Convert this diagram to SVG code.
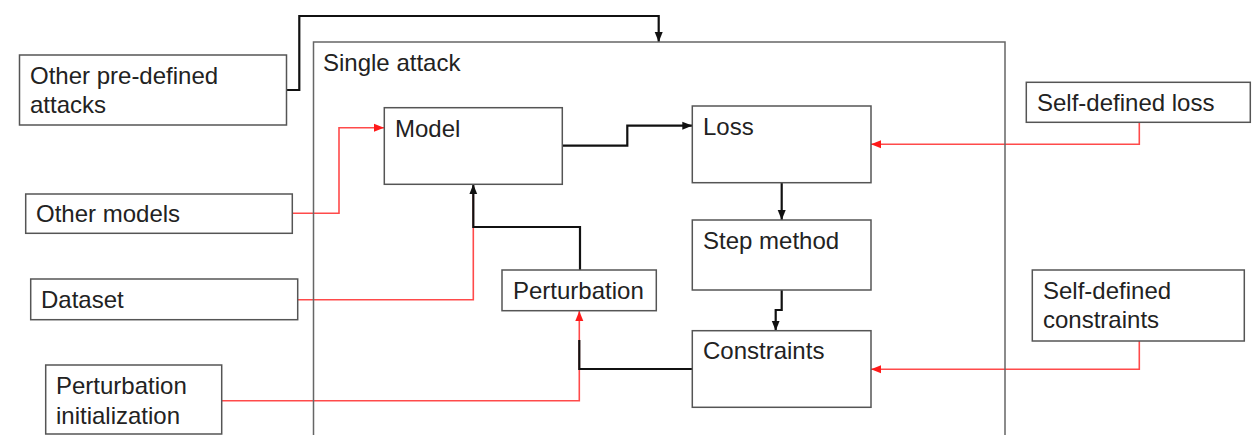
<svg xmlns="http://www.w3.org/2000/svg" width="1257" height="435" viewBox="0 0 1257 435">
<style>
.box{fill:#fff;stroke:#555;stroke-width:1.5}
.cont{fill:none;stroke:#666;stroke-width:1.5}
.t{font-family:"Liberation Sans",Arial,sans-serif;font-size:24px;fill:#222}
.blk{fill:none;stroke:#111;stroke-width:2.2}
.red{fill:none;stroke:#ff4a4a;stroke-width:1.6}
</style>
<defs>
<marker id="ab" markerUnits="userSpaceOnUse" markerWidth="10" markerHeight="10" viewBox="0 0 10 10" refX="10" refY="5" orient="auto"><path d="M0,1 L10,5 L0,9 z" fill="#111"/></marker>
<marker id="ar" markerUnits="userSpaceOnUse" markerWidth="10" markerHeight="10" viewBox="0 0 10 10" refX="10" refY="5" orient="auto"><path d="M0,1 L10,5 L0,9 z" fill="#ff1a1a"/></marker>
</defs>
<rect width="1257" height="435" fill="#fff"/>

<g id="connectors">
<path class="red" d="M292,213.3 H339 V127.7 H384" marker-end="url(#ar)"/>
<path class="red" d="M298,299.7 H473.3 V186"/>
<path class="red" d="M222,400.7 H579.3 V311" marker-end="url(#ar)"/>
<path class="red" d="M1139.3,122.3 V144.3 H871" marker-end="url(#ar)"/>
<path class="red" d="M1139.3,341 V369.3 H871" marker-end="url(#ar)"/>
<path class="blk" d="M287,90 H299.3 V16 H658.7 V42" marker-end="url(#ab)"/>
<path class="blk" d="M562.3,145.7 H627.3 V125.7 H692.3" marker-end="url(#ab)"/>
<path class="blk" d="M781.7,182.7 V220" marker-end="url(#ab)"/>
<path class="blk" d="M781.7,290 V310 H775.7 V330.7" marker-end="url(#ab)"/>
<path class="blk" d="M692.3,369 H579.3 V340"/>
<path class="blk" d="M580,270 V227 H473.3 V184.3" marker-end="url(#ab)"/>
</g>

<g id="single-attack">
<path class="cont" d="M313.5,436 V42 H1005 V436"/>
<text class="t" x="323" y="71">Single attack</text>
</g>

<g id="other-attacks">
<rect class="box" x="19.5" y="55" width="267" height="70"/>
<text class="t" x="30" y="84">Other pre-defined</text>
<text class="t" x="30" y="113">attacks</text>
</g>

<g id="model">
<rect class="box" x="384.3" y="107.7" width="178" height="76.6"/>
<text class="t" x="395" y="137">Model</text>
</g>

<g id="loss">
<rect class="box" x="692.3" y="106" width="178.7" height="76.7"/>
<text class="t" x="703" y="135">Loss</text>
</g>

<g id="step-method">
<rect class="box" x="692.3" y="220" width="178.7" height="70"/>
<text class="t" x="703" y="248.5">Step method</text>
</g>

<g id="constraints">
<rect class="box" x="692.3" y="330.7" width="178.7" height="76.6"/>
<text class="t" x="703" y="359">Constraints</text>
</g>

<g id="perturbation">
<rect class="box" x="502" y="270" width="154.3" height="40.7"/>
<text class="t" x="513" y="298.5">Perturbation</text>
</g>

<g id="other-models">
<rect class="box" x="25.7" y="194" width="266.6" height="39.3"/>
<text class="t" x="36" y="221.5">Other models</text>
</g>

<g id="dataset">
<rect class="box" x="30.7" y="279" width="267" height="40.7"/>
<text class="t" x="41" y="307.5">Dataset</text>
</g>

<g id="perturbation-init">
<rect class="box" x="45.7" y="365" width="176" height="69"/>
<text class="t" x="56" y="393.5">Perturbation</text>
<text class="t" x="56" y="423.5">initialization</text>
</g>

<g id="self-loss">
<rect class="box" x="1026.3" y="82.3" width="224" height="40"/>
<text class="t" x="1037" y="110.5">Self-defined loss</text>
</g>

<g id="self-constraints">
<rect class="box" x="1032.3" y="270" width="212" height="71"/>
<text class="t" x="1043" y="298.5">Self-defined</text>
<text class="t" x="1043" y="327.5">constraints</text>
</g>
</svg>
